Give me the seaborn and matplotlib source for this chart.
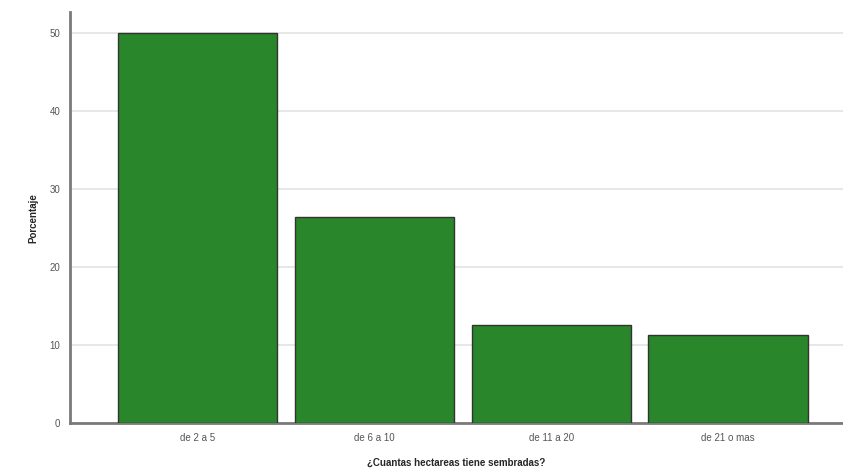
import pandas as pd
import seaborn as sns
import matplotlib.pyplot as plt

categorias = ["de 2 a 5", "de 6 a 10", "de 11 a 20", "de 21 o mas"]
porcentaje = [50.0, 26.4, 12.5, 11.25]

df = pd.DataFrame({"categoria": categorias, "porcentaje": porcentaje})

sns.set_style("white")
plt.rcParams["font.family"] = ["Liberation Sans", "DejaVu Sans"]

fig = plt.figure(figsize=(8.43, 4.70), dpi=100)
ax = fig.add_axes([0.083, 0.1, 0.917, 0.874])

sns.barplot(data=df, x="categoria", y="porcentaje", color="#2a862a",
            saturation=1, width=0.9, edgecolor="#333333", linewidth=1, ax=ax, zorder=3)

ax.set_ylim(0, 52.6)
ax.set_xlim(-0.72, 3.65)
ax.set_yticks([0, 10, 20, 30, 40, 50])
ax.yaxis.grid(True, color="#e3e3e3", linewidth=1.2, zorder=0)
ax.set_axisbelow(True)

for s in ["top", "right"]:
    ax.spines[s].set_visible(False)
for s in ["left", "bottom"]:
    ax.spines[s].set_color("#7a7a7a")
    ax.spines[s].set_linewidth(2)

ax.tick_params(axis="both", length=0, labelsize=7, labelcolor="#555555", pad=7)
ax.set_xlabel("¿Cuantas hectareas tiene sembradas?", fontsize=7, fontweight="bold", labelpad=11)
ax.set_ylabel("Porcentaje", fontsize=7, fontweight="bold", labelpad=8)

fig.savefig("out.png", dpi=100)
